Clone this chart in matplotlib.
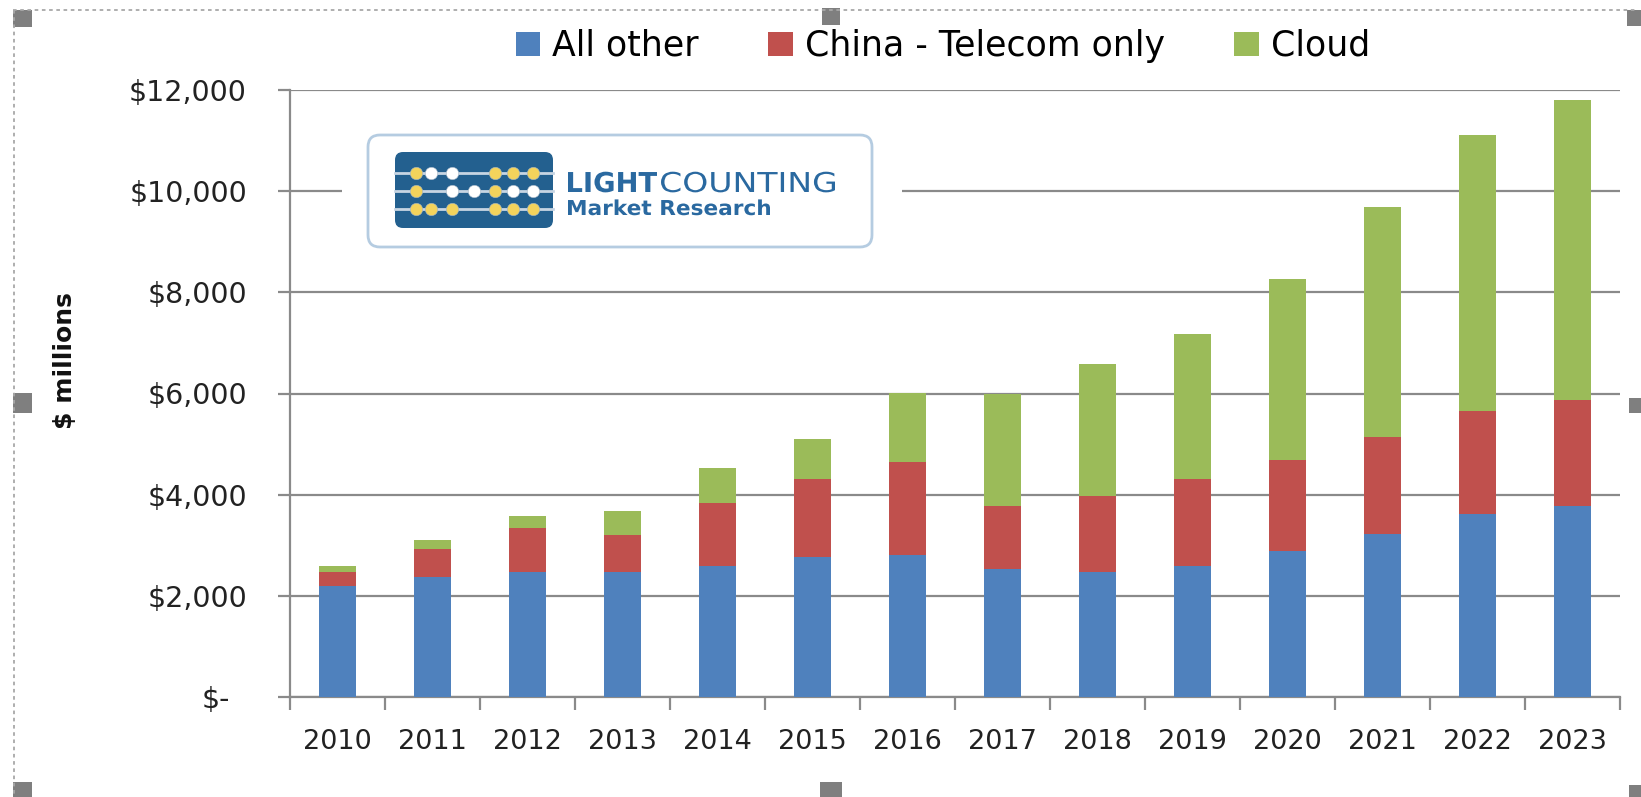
import matplotlib.pyplot as plt
from matplotlib.patches import Rectangle, FancyBboxPatch, Patch, PathPatch
from matplotlib.lines import Line2D
from matplotlib.textpath import TextPath
from matplotlib.font_manager import FontProperties
from matplotlib.ticker import FuncFormatter, MultipleLocator
import matplotlib.transforms as mtransforms
import numpy as np

# data ($ millions)
years = ['2010', '2011', '2012', '2013', '2014', '2015', '2016',
         '2017', '2018', '2019', '2020', '2021', '2022', '2023']
all_other = [2200, 2365, 2475, 2475, 2595, 2760, 2815, 2540, 2475, 2580, 2880, 3225, 3620, 3785]
china_telecom = [280, 560, 860, 735, 1245, 1545, 1830, 1245, 1490, 1720, 1800, 1910, 2030, 2085]
cloud = [110, 175, 235, 465, 690, 800, 1360, 2210, 2625, 2880, 3590, 4560, 5465, 5935]

series_names = ['All other', 'China - Telecom only', 'Cloud']
series_colors = ['#4F81BD', '#C0504D', '#9BBB59']

W, H = 1641, 797
fig = plt.figure(figsize=(W / 100, H / 100), dpi=100)

def fx(px):
    return px / W

def fy(py):
    return 1 - py / H

# main axes (pixel box 290..1620 x 90..697)
ax = fig.add_axes([fx(290), fy(697), fx(1620) - fx(290), fy(90) - fy(697)])

x = np.arange(len(years))
bottom = np.zeros(len(years))
for vals, col in zip([all_other, china_telecom, cloud], series_colors):
    ax.bar(x, vals, width=0.38, bottom=bottom, color=col, zorder=3)
    bottom = bottom + np.array(vals)

grey = '#8A8A8A'
ax.set_xlim(-0.5, len(years) - 0.5)
ax.set_ylim(0, 12000)
ax.yaxis.set_major_locator(MultipleLocator(2000))
ax.yaxis.set_major_formatter(FuncFormatter(lambda v, p: '$-' if v == 0 else '${:,.0f}'.format(v)))
ax.grid(axis='y', color=grey, linewidth=1.6, zorder=0)
ax.set_axisbelow(True)

for s in ['top', 'right']:
    ax.spines[s].set_visible(False)
for s in ['left', 'bottom']:
    ax.spines[s].set_color(grey)
    ax.spines[s].set_linewidth(1.6)

ax.set_xticks(x)
ax.set_xticklabels(years)
ax.set_xticks(np.arange(-0.5, len(years), 1), minor=True)
ax.tick_params(axis='x', which='major', length=0, pad=23, labelsize=19.5, colors='#222222')
ax.tick_params(axis='x', which='minor', length=9, width=1.6, color=grey)
ax.tick_params(axis='y', length=9, width=1.6, color=grey, pad=22, labelsize=20.5, labelcolor='#222222')

fig.text(fx(65), fy(361), '$ millions', rotation=90, ha='center', va='center',
         fontsize=18, fontweight='bold', color='#111111')

# legend
handles = [Patch(facecolor=c, edgecolor='none') for c in series_colors]
fig.legend(handles, series_names, loc='center', bbox_to_anchor=(fx(943), fy(46)),
           ncol=3, frameon=False, fontsize=25, handlelength=0.7, handleheight=0.7,
           handletextpad=0.35, columnspacing=2.0, borderpad=0)

# logo box
lg = fig.add_axes([fx(342), fy(254), fx(902) - fx(342), fy(128) - fy(254)])
lg.set_xlim(342, 902)
lg.set_ylim(254, 128)
lg.axis('off')
lg.add_patch(Rectangle((342, 128), 560, 126, facecolor='white', edgecolor='none'))
lg.add_patch(FancyBboxPatch((368, 135), 504, 112, boxstyle='round,pad=0,rounding_size=12',
                            facecolor='white', edgecolor='#B5CCE1', linewidth=2))
lg.add_patch(FancyBboxPatch((395, 152), 158, 76, boxstyle='round,pad=0,rounding_size=8',
                            facecolor='#23608F', edgecolor='none'))
rows = [173, 191, 209]
for r in rows:
    lg.plot([395, 553], [r, r], color='#C7D5E3', linewidth=2, zorder=3)
cols = [416, 431, 452, 474, 495, 513, 533]
pattern = ['YWW-YYY', 'Y-WWYWW', 'YYY-YYY']
for r, pat in zip(rows, pattern):
    for c, k in zip(cols, pat):
        if k == '-':
            continue
        lg.scatter(c, r, s=80, color='#F3D35C' if k == 'Y' else 'white',
                   edgecolor='#9FB2C4', linewidth=0.4, zorder=4)


def logo_text(s, x0, x1, baseline, cap, weight):
    # text stretched to fit a box, the logo lettering is wide
    fp = FontProperties(family='DejaVu Sans', weight=weight)
    tp = TextPath((0, 0), s, size=1, prop=fp)
    ext = tp.get_extents()
    sx = (x1 - x0) / ext.width
    sy = cap / 0.73
    tr = mtransforms.Affine2D().scale(sx, -sy).translate(x0 - ext.x0 * sx, baseline)
    lg.add_patch(PathPatch(tr.transform_path(tp), facecolor='#2A69A0', edgecolor='none', zorder=5))


logo_text('LIGHT', 568, 657, 192, 20, 'bold')
logo_text('COUNTING', 661, 835, 192, 20, 'normal')
logo_text('Market Research', 568, 770, 215, 15, 'bold')

# selection frame and handles
dash = dict(color='#A8A8A8', linewidth=1.3, linestyle=(0, (2, 2)), transform=fig.transFigure)
fig.add_artist(Line2D([fx(13), fx(1636)], [fy(10), fy(10)], **dash))
fig.add_artist(Line2D([fx(14), fx(14)], [fy(10), fy(797)], **dash))
handle_boxes = [(13, 10, 19, 17), (822, 8, 18, 17), (1627, 10, 14, 16),
                (13, 393, 19, 20), (1629, 398, 12, 15),
                (13, 782, 19, 15), (820, 782, 22, 15), (1629, 785, 12, 12)]
for (hx, hy, hw, hh) in handle_boxes:
    fig.add_artist(Rectangle((fx(hx), fy(hy + hh)), hw / W, hh / H, transform=fig.transFigure,
                             facecolor='#7F7F7F', edgecolor='none'))

# "$-" sits further left than the other labels (accounting format)
fig.canvas.draw()
for lab in ax.get_yticklabels():
    if lab.get_text() == '$-':
        lab.set_transform(lab.get_transform() + mtransforms.ScaledTranslation(-0.17, 0, fig.dpi_scale_trans))

fig.savefig('out.png', dpi=100, facecolor='white')
